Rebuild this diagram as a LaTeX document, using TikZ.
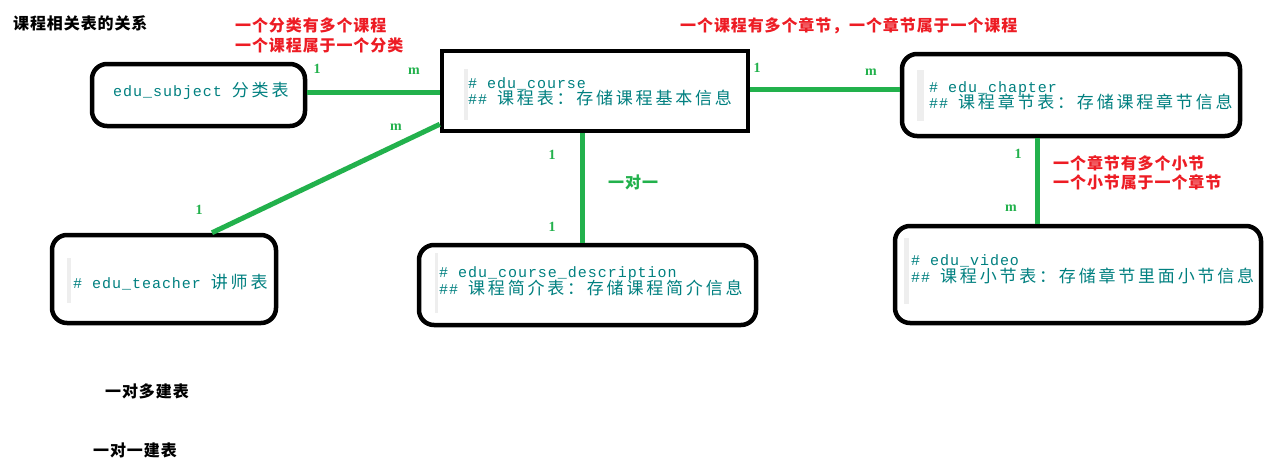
\documentclass[tikz,border=0pt]{standalone}
\usepackage{fontspec}
\newfontfamily\cjkfam{Noto Sans CJK SC}
\newfontfamily\monocode{Liberation Mono}[LetterSpace=6.5]
\newfontfamily\lblfont{Liberation Serif}
\newlength\cjadv
\def\cjloop#1{\ifx#1\relax\else\makebox[\cjadv][l]{#1}\expandafter\cjloop\fi}
\newcommand\cj[1]{{\fontsize{17}{19}\selectfont\cjkfam\setlength\cjadv{19.8pt}\cjloop#1\relax}}
\newcommand\cjn[1]{{\fontsize{16}{18}\selectfont\cjkfam\bfseries\setlength\cjadv{16.9pt}\cjloop#1\relax}}
\definecolor{linkgreen}{HTML}{22B14C}
\definecolor{notered}{HTML}{ED1C24}
\definecolor{codeteal}{HTML}{008080}
\definecolor{barfill}{HTML}{EEEEEE}
\tikzset{
  tablebox/.style={draw=black, line width=4.5pt, inner sep=0pt, rounded corners=15pt},
  sharpbox/.style={draw=black, line width=4.5pt, inner sep=0pt},
  codetext/.style={anchor=west, inner sep=0pt, text=codeteal, text height=10pt, text depth=3pt,
     font=\fontsize{15}{17}\selectfont\monocode},
  notetext/.style={anchor=west, inner sep=0pt, text=notered, text height=12pt, text depth=3pt},
  blacktext/.style={anchor=west, inner sep=0pt, text=black, text height=12pt, text depth=3pt},
  link/.style={draw=linkgreen, line width=5pt},
  card/.style={text=linkgreen, inner sep=0pt, font=\fontsize{14}{16}\selectfont\lblfont\bfseries},
  bar/.style={fill=barfill}
}
\begin{document}
\begin{tikzpicture}[x=1pt,y=-1pt]
\useasboundingbox[fill=white] (0,0) rectangle (1273,471);

% title and notes
\node[blacktext] (title) at (13,25) {\cjn{课程相关表的关系}};
\node[notetext] (note1a) at (235,27) {\cjn{一个分类有多个课程}};
\node[notetext] (note1b) at (235,47) {\cjn{一个课程属于一个分类}};
\node[notetext] (note2) at (680,27) {\cjn{一个课程有多个章节，一个章节属于一个课程}};
\node[notetext] (note3a) at (1053,165) {\cjn{一个章节有多个小节}};
\node[notetext] (note3b) at (1053,184) {\cjn{一个小节属于一个章节}};
\node[blacktext] (onemany) at (105,393) {\cjn{一对多建表}};
\node[blacktext] (oneone) at (93,452) {\cjn{一对一建表}};

% boxes
\node[tablebox, minimum width=213pt, minimum height=62pt] (subject) at (198.5,95) {};
\node[sharpbox, minimum width=306pt, minimum height=80pt] (course) at (595,91) {};
\node[tablebox, minimum width=338pt, minimum height=82pt] (chapter) at (1071,95) {};
\node[tablebox, minimum width=366pt, minimum height=97pt] (video) at (1078,274.5) {};
\node[tablebox, minimum width=224pt, minimum height=88pt] (teacher) at (164,279) {};
\node[tablebox, minimum width=337pt, minimum height=80pt] (desc) at (587.5,285) {};

% grey quote bars
\fill[bar] (464,69) rectangle (468,120);
\fill[bar] (917,70) rectangle (924,121);
\fill[bar] (904,238) rectangle (909,304);
\fill[bar] (67,258) rectangle (71,303);
\fill[bar] (435,253) rectangle (438,313);

% box texts
\node[codetext] (subjectT) at (113,93) {edu\_subject \cj{分类表}};
\node[codetext] (courseT1) at (468,84.5) {\# edu\_course};
\node[codetext] (courseT2) at (468,101) {\#\# \cj{课程表：存储课程基本信息}};
\node[codetext] (chapterT1) at (929,88.5) {\# edu\_chapter};
\node[codetext] (chapterT2) at (929,105) {\#\# \cj{课程章节表：存储课程章节信息}};
\node[codetext] (videoT1) at (911,261.5) {\# edu\_video};
\node[codetext] (videoT2) at (911,278.5) {\#\# \cj{课程小节表：存储章节里面小节信息}};
\node[codetext] (teacherT) at (73,284.5) {\# edu\_teacher \cj{讲师表}};
\node[codetext] (descT1) at (439,274) {\# edu\_course\_description};
\node[codetext] (descT2) at (439,291) {\#\# \cj{课程简介表：存储课程简介信息}};

% connectors
\draw[link] ([yshift=3pt]subject.east) -- ([yshift=3pt]subject.east -| course.west);
\draw[link] ([yshift=9pt]course.south west) -- ([xshift=48pt]teacher.north);
\draw[link] ([yshift=2pt]course.east) -- ([yshift=2pt]course.east -| chapter.west);
\draw[link] ([xshift=-13pt]course.south) -- ([xshift=-13pt]course.south |- desc.north);
\draw[link] ([xshift=-34pt]chapter.south) -- ([xshift=-34pt]chapter.south |- video.north);

% cardinality labels
\node[card] (c1a) at (317,69) {1};
\node[card] (c1b) at (414,71) {m};
\node[card] (c2a) at (396,127) {m};
\node[card] (c2b) at (199,210) {1};
\node[card] (c3a) at (757,68) {1};
\node[card] (c3b) at (871,72) {m};
\node[card] (c4a) at (552,155) {1};
\node[card] (c4b) at (552,227) {1};
\node[card, anchor=west] (c4c) at (608,182) {\color{linkgreen}\cjn{一对一}};
\node[card] (c5a) at (1018,154) {1};
\node[card] (c5b) at (1011,208) {m};
\end{tikzpicture}
\end{document}
